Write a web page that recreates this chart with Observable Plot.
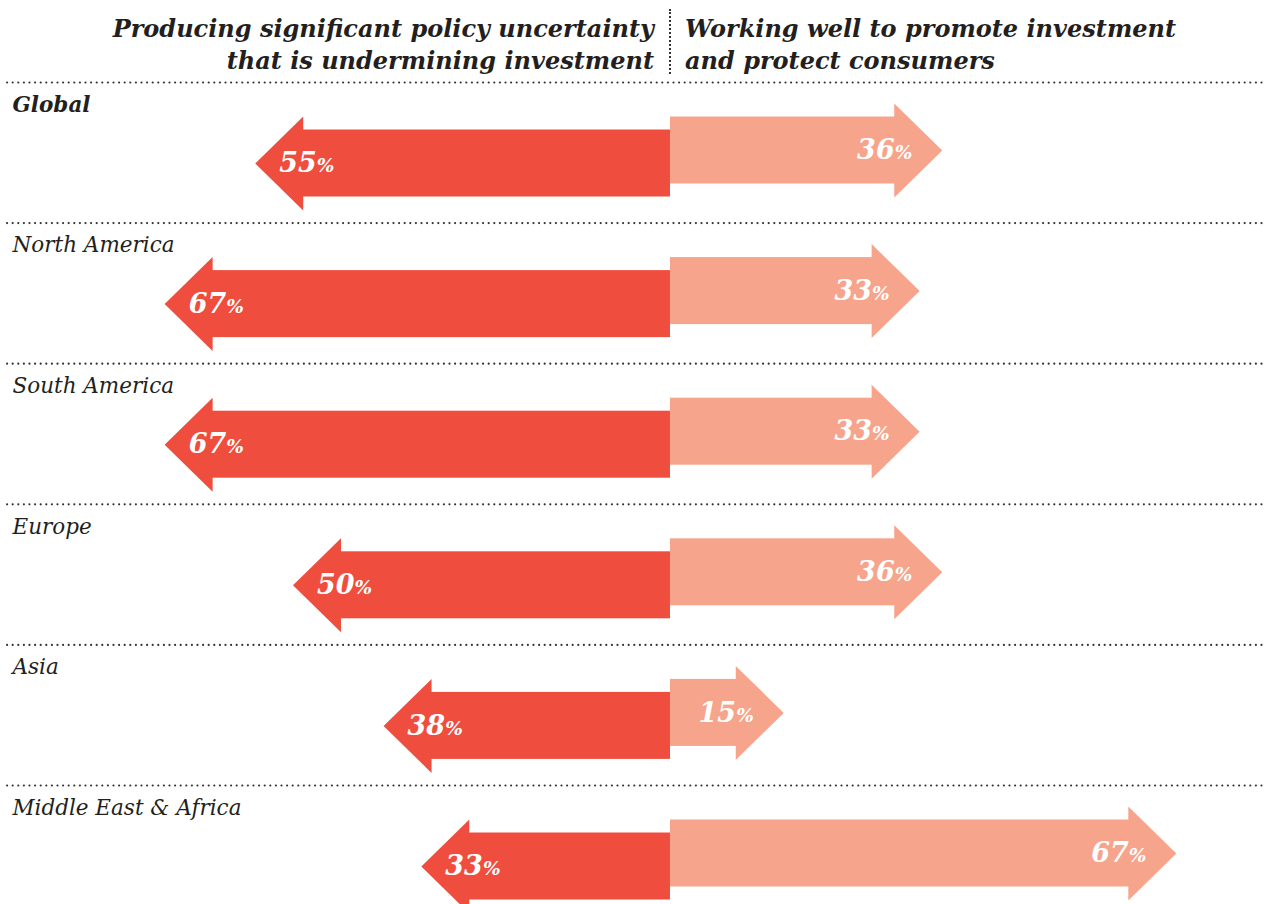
<!DOCTYPE html>
<html>
<head>
<meta charset="utf-8">
<script src="https://cdn.jsdelivr.net/npm/d3@7"></script>
<script src="https://cdn.jsdelivr.net/npm/@observablehq/plot@0.6"></script>
<style>
  html, body { margin: 0; padding: 0; background: #fff; }
  body { width: 1264px; height: 904px; overflow: hidden; }
  #header { display: flex; height: 76px; width: 1264px; font-family: "DejaVu Serif", serif; font-weight: bold; font-style: italic; font-size: 24px; line-height: 32px; color: #231F20; }
  #header .l { width: 654px; padding-right: 15px; text-align: right; border-right: 2px dotted #333; box-sizing: content-box; margin-top: 9px; margin-bottom: 2px; padding-top: 4px; white-space: nowrap; }
  #header .r { padding-left: 14px; padding-top: 13px; white-space: nowrap; }
</style>
</head>
<body>
<div id="header">
  <div class="l">Producing significant policy uncertainty<br>that is undermining investment</div>
  <div class="r">Working well to promote investment<br>and protect consumers</div>
</div>
<div id="chart"></div>
<script>
const regions = ["Global", "North America", "South America", "Europe", "Asia", "Middle East & Africa"];
const uncertainty = [55, 67, 67, 50, 38, 33];   // "Producing significant policy uncertainty..."
const workingWell = [36, 33, 33, 36, 15, 67];   // "Working well to promote investment..."

const RED = "#EF4D3E";
const SALMON = "#F6A48C";
const INK = "#231F20";
const FONT = "DejaVu Serif";

const rows = regions.map((region, i) => ({region, i, left: uncertainty[i], right: workingWell[i]}));

const HEAD_L = 48, HEAD_H = 47;
const leftHead = { draw(ctx) { ctx.moveTo(0, 0); ctx.lineTo(HEAD_L, -HEAD_H); ctx.lineTo(HEAD_L, HEAD_H); ctx.closePath(); } };
const rightHead = { draw(ctx) { ctx.moveTo(0, 0); ctx.lineTo(-HEAD_L, -HEAD_H); ctx.lineTo(-HEAD_L, HEAD_H); ctx.closePath(); } };

const ROW = 140.6;
const labelOpts = { y: "i", text: "region", frameAnchor: "left", dx: 12, dy: 22.5, textAnchor: "start", lineAnchor: "middle",
  fontFamily: FONT, fontStyle: "italic", fontSize: 21.5, fill: INK };
const chart = Plot.plot({
  width: 1264,
  height: 828,
  margin: 0,
  x: { domain: [-88.74, 78.68], range: [0, 1264], axis: null },
  y: { domain: [0, 6], range: [6, 6 + 6 * ROW], axis: null },
  style: { background: "transparent", overflow: "visible" },
  marks: [
    Plot.ruleY(rows, { y: "i", x1: -87.8, x2: 78.68, stroke: "#333", strokeWidth: 2.2, strokeDasharray: "0,5.6", strokeLinecap: "round" }),
    // left arrows
    Plot.rectX(rows, { x1: d => -d.left, x2: 0, y1: "i", y2: d => d.i + 1, insetLeft: HEAD_L - 2, insetTop: 47.5, insetBottom: ROW - 47.5 - 67, fill: RED }),
    Plot.dot(rows, { x: d => -d.left, y: "i", dy: 81, symbol: leftHead, r: 10, fill: RED, stroke: "none" }),
    // right arrows
    Plot.rectX(rows, { x1: 0, x2: "right", y1: "i", y2: d => d.i + 1, insetRight: HEAD_L - 2, insetTop: 34.5, insetBottom: ROW - 34.5 - 67, fill: SALMON }),
    Plot.dot(rows, { x: "right", y: "i", dy: 68, symbol: rightHead, r: 10, fill: SALMON, stroke: "none" }),
    // region labels
    Plot.text(rows.filter(d => d.i === 0), { ...labelOpts, fontWeight: "bold" }),
    Plot.text(rows.filter(d => d.i !== 0), { ...labelOpts, fontWeight: "normal" }),
    // value labels
    Plot.text(rows, { x: d => -d.left, y: "i", text: d => d.left + "%", dx: 24, dy: 81, textAnchor: "start", lineAnchor: "middle",
      fontFamily: FONT, fontStyle: "italic", fontWeight: "bold", fontSize: 27, fill: "white" }),
    Plot.text(rows, { x: "right", y: "i", text: d => d.right + "%", dx: -30, dy: 68, textAnchor: "end", lineAnchor: "middle",
      fontFamily: FONT, fontStyle: "italic", fontWeight: "bold", fontSize: 27, fill: "white" })
  ]
});

d3.select(chart).selectAll("text").each(function () {
  const v = this.textContent;
  const m = /^(\d+)%$/.exec(v);
  if (!m) return;
  const t = d3.select(this);
  t.text(null);
  t.append("tspan").text(m[1]);
  t.append("tspan").attr("font-size", 18.5).text("%");
});

document.getElementById("chart").appendChild(chart);
</script>
</body>
</html>
